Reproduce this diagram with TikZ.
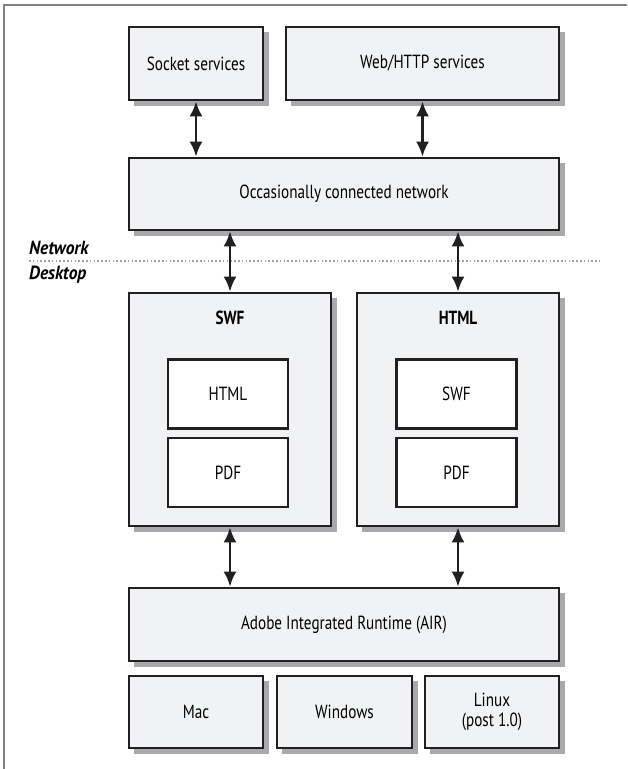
\documentclass[tikz,border=0pt]{standalone}
\usepackage{fontspec}
\setmainfont{PT Sans}[FakeStretch=0.8]
\newfontfamily\sidefont{PT Sans}[FakeStretch=0.92]
\usetikzlibrary{arrows.meta}
\definecolor{boxfill}{HTML}{F1F2F3}
\definecolor{boxline}{HTML}{231F20}
\definecolor{shadowgray}{HTML}{A7A9AC}
\definecolor{framegray}{HTML}{808080}
\definecolor{dotgray}{HTML}{A0A0A0}
\newcommand{\lblfont}{\fontsize{19}{22}\selectfont}
\begin{document}
\begin{tikzpicture}[x=1pt,y=-1pt,
  box/.style={draw=boxline, line width=2.6pt, fill=boxfill,
    inner sep=0pt, font=\lblfont, align=center},
  inbox/.style={draw=boxline, line width=2.6pt, fill=white, inner sep=0pt,
    font=\lblfont, minimum width=120pt, minimum height=69pt},
  arr/.style={{Latex[length=15pt,width=13pt]}-{Latex[length=15pt,width=13pt]},
    line width=2.8pt, draw=boxline},
  sidelbl/.style={anchor=west, inner sep=0pt, font=\lblfont\sidefont\bfseries\itshape},
  titlelbl/.style={inner sep=0pt, font=\lblfont\bfseries},
  shadowfill/.style={fill=shadowgray}
]
\useasboundingbox (0,0) rectangle (627,769);
% frame
\draw[framegray, line width=1.6pt] (4,769) -- (4,5) -- (627,5);
% shadows
\fill[shadowfill] (134,32) rectangle (269.3,105.8);
\fill[shadowfill] (291,32) rectangle (565.3,105.8);
\fill[shadowfill] (134,163) rectangle (565.3,236.3);
\fill[shadowfill] (134,298) rectangle (337.3,532.3);
\fill[shadowfill] (362,298) rectangle (565.3,532.3);
\fill[shadowfill] (134,593) rectangle (565.3,667.3);
\fill[shadowfill] (134,681) rectangle (269.3,754.3);
\fill[shadowfill] (282,681) rectangle (418.3,754.3);
\fill[shadowfill] (430,681) rectangle (565.3,754.3);
% top row
\node[box, minimum width=134pt, minimum height=73pt] (sock) at (196,63.5) {Socket services};
\node[box, minimum width=273pt, minimum height=73pt] (web) at (422.5,63.5) {Web/HTTP services};
\node[box, minimum width=430pt, minimum height=72pt] (net) at (344,194) {Occasionally connected network};
% separator
\draw[dotgray, line width=2pt, dash pattern=on 1.6pt off 2.2pt] (29,261) -- (600,261);
\node[sidelbl] (netlbl) at (29,248) {Network};
\node[sidelbl] (desklbl) at (29,275) {Desktop};
% middle boxes
\node[box, minimum width=202pt, minimum height=233pt] (swf) at (230,409.5) {};
\node[box, minimum width=202pt, minimum height=233pt] (html) at (458,409.5) {};
\node[titlelbl] (swft) at (230,318) {SWF};
\node[titlelbl] (htmlt) at (458,318) {HTML};
\node[inbox] (swfhtml) at (228,394) {HTML};
\node[inbox] (swfpdf) at (228,472.5) {PDF};
\node[inbox] (htmlswf) at (456.5,394) {SWF};
\node[inbox] (htmlpdf) at (456.5,472.5) {PDF};
% bottom
\node[box, minimum width=430pt, minimum height=73pt] (air) at (344,624.5) {Adobe Integrated Runtime (AIR)};
\node[box, minimum width=134pt, minimum height=72pt] (mac) at (196,712) {Mac};
\node[box, minimum width=135pt, minimum height=72pt] (win) at (344.5,712) {Windows};
\node[box, minimum width=134pt, minimum height=72pt] (linux) at (492,712) {Linux\\[-2pt](post 1.0)};
% arrows
\draw[arr] (sock.south) -- (sock.south |- net.north);
\draw[arr] (web.south) -- (web.south |- net.north);
\draw[arr] (swf.north |- net.south) -- (swf.north);
\draw[arr] (html.north |- net.south) -- (html.north);
\draw[arr] (swf.south) -- (swf.south |- air.north);
\draw[arr] (html.south) -- (html.south |- air.north);
\end{tikzpicture}
\end{document}
